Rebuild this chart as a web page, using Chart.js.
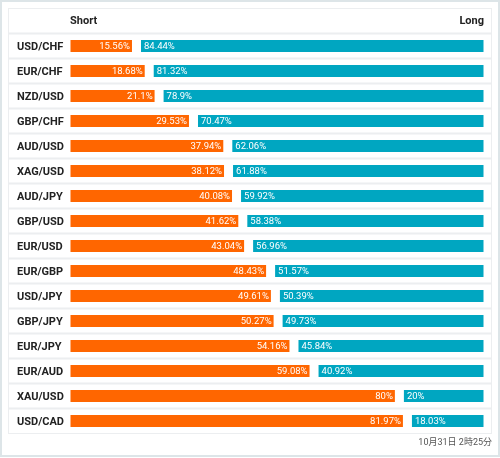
<!DOCTYPE html>
<html>
<head>
<meta charset="utf-8">
<script src="https://cdn.jsdelivr.net/npm/chart.js@4"></script>
<style>
  body { margin: 0; background: #fff; }
  #wrap { position: relative; width: 500px; height: 458px; }
  .txt { position: absolute; font-family: Roboto, "Noto Sans CJK JP", sans-serif; white-space: nowrap; }
  .hdr { top: 14px; font-size: 11px; line-height: 13px; font-weight: bold; color: #222; }
  #foot { right: 8px; top: 436px; font-size: 9px; line-height: 12px; color: #555; }
</style>
</head>
<body>
<div id="wrap">
  <canvas id="chart" width="500" height="458"></canvas>
  <div class="txt hdr" style="left:70px">Short</div>
  <div class="txt hdr" style="right:16px">Long</div>
  <div class="txt" id="foot">10月31日 2時25分</div>
</div>
<script>
const ctx = document.getElementById('chart');

// datos
const pares = ['USD/CHF', 'EUR/CHF', 'NZD/USD', 'GBP/CHF', 'AUD/USD', 'XAG/USD', 'AUD/JPY', 'GBP/USD',
  'EUR/USD', 'EUR/GBP', 'USD/JPY', 'GBP/JPY', 'EUR/JPY', 'EUR/AUD', 'XAU/USD', 'USD/CAD'];
const short = [15.56, 18.68, 21.1, 29.53, 37.94, 38.12, 40.08, 41.62, 43.04, 48.43, 49.61, 50.27, 54.16, 59.08, 80, 81.97];
const long = [84.44, 81.32, 78.9, 70.47, 62.06, 61.88, 59.92, 58.38, 56.96, 51.57, 50.39, 49.73, 45.84, 40.92, 20, 18.03];

// espacio blanco entre las dos barras (en unidades del eje)
const HUECO = 1.72;

const NARANJA = '#ff6600';
const TURQUESA = '#00a6c1';
const LINEA = '#eceef0';

// lineas de la tabla
const tablaPlugin = {
  id: 'tabla',
  beforeDraw(chart) {
    const c = chart.ctx;
    const y = chart.scales.y;
    const paso = y.getPixelForValue(1) - y.getPixelForValue(0);
    const top = chart.chartArea.top - paso;
    const bottom = chart.chartArea.bottom;
    c.save();
    c.fillStyle = '#fff';
    c.fillRect(0, 0, chart.width, chart.height);
    c.strokeStyle = '#dde5e8';
    c.lineWidth = 2;
    c.strokeRect(1, 1, chart.width - 2, chart.height - 3);
    c.strokeStyle = LINEA;
    c.lineWidth = 1;
    c.strokeRect(8.5, top, 483, bottom - top);
    c.lineWidth = 2;
    for (let i = 0; i < pares.length; i++) {
      const yy = y.getPixelForValue(i) - paso / 2;
      c.beginPath();
      c.moveTo(9, yy);
      c.lineTo(491, yy);
      c.stroke();
    }
    c.restore();
  }
};

// etiquetas de porcentaje dentro de las barras
const etiquetasPlugin = {
  id: 'etiquetas',
  afterDatasetsDraw(chart) {
    const c = chart.ctx;
    c.save();
    c.font = '9.5px Roboto';
    c.fillStyle = '#fff';
    c.textBaseline = 'middle';
    chart.getDatasetMeta(0).data.forEach((el, i) => {
      c.textAlign = 'right';
      c.fillText(short[i] + '%', el.x - 3, el.y + 0.5);
    });
    chart.getDatasetMeta(2).data.forEach((el, i) => {
      c.textAlign = 'left';
      c.fillText(long[i] + '%', el.base + 4, el.y + 0.5);
    });
    c.restore();
  }
};

new Chart(ctx, {
  type: 'bar',
  data: {
    labels: pares,
    datasets: [
      { label: 'Short', data: short, backgroundColor: NARANJA },
      { label: 'hueco', data: pares.map(() => HUECO), backgroundColor: 'rgba(0,0,0,0)', borderWidth: 0 },
      { label: 'Long', data: long, backgroundColor: TURQUESA }
    ]
  },
  options: {
    responsive: false,
    animation: false,
    indexAxis: 'y',
    layout: { padding: { left: 17, right: 15.5, top: 33.5, bottom: 24.5 } },
    datasets: {
      bar: {
        categoryPercentage: 1,
        barPercentage: 0.56,
        borderWidth: 1,
        borderColor: 'rgba(255,255,255,0.45)',
        borderSkipped: false
      }
    },
    scales: {
      x: { stacked: true, min: 0, max: 100 + HUECO, display: false },
      y: {
        stacked: true,
        border: { display: false },
        grid: { display: false },
        ticks: {
          crossAlign: 'far',
          labelOffset: 1,
          color: '#222',
          font: { family: 'Roboto', size: 11, weight: 'bold' }
        },
        afterFit(scale) { scale.width = 52.5; }
      }
    },
    plugins: {
      legend: { display: false },
      tooltip: { enabled: false }
    }
  },
  plugins: [tablaPlugin, etiquetasPlugin]
});
</script>
</body>
</html>
